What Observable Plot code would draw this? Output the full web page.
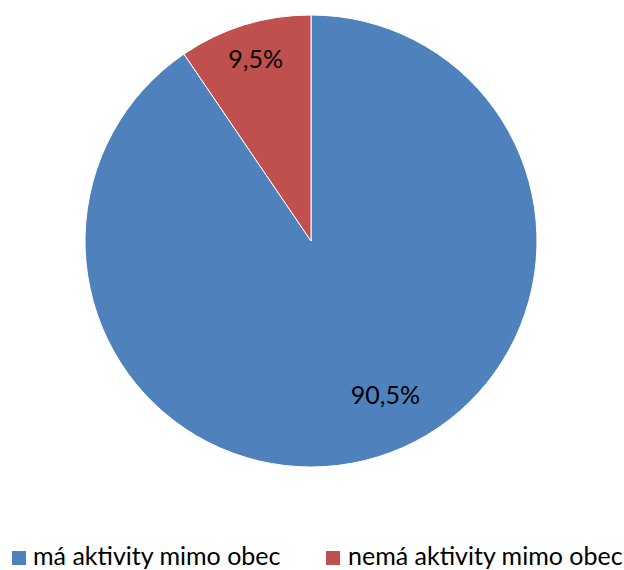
<!DOCTYPE html>
<html>
<head>
<meta charset="utf-8">
<script src="https://cdn.jsdelivr.net/npm/d3@7"></script>
<script src="https://cdn.jsdelivr.net/npm/@observablehq/plot@0.6"></script>
<style>
  body { margin: 0; background: #fff; font-family: Lato, "Open Sans", sans-serif; overflow: hidden; }
  #chart { position: relative; width: 624px; height: 570px; }
  .legend { position: absolute; top: 543px; left: 0; width: 624px; height: 26px; font-size: 25px; line-height: 25px; color: #000; }
  .item { position: absolute; top: 0; height: 26px; white-space: nowrap; }
  .sw { position: absolute; top: 8px; left: 0; width: 14px; height: 14px; }
  .tx { position: absolute; top: 0; white-space: nowrap; }
</style>
</head>
<body>
<div id="chart"></div>
<script>
const categories = ["má aktivity mimo obec", "nemá aktivity mimo obec"];
const values = [90.5, 9.5];
const labels = ["90,5%", "9,5%"];
const colors = ["#4F81BD", "#C0504D"];

const data = categories.map((c, i) => ({category: c, value: values[i], label: labels[i]}));
const pie = d3.pie().value(d => d.value).sort(null)(data);

const W = 624, H = 540;
const cx = 311, cy = 241, R = 226;
// label placement within each slice (fraction of the slice's angle span, fraction of radius)
const placement = [{t: 0.474, r: 0.757}, {t: 0.5, r: 0.84}];
const labelData = pie.map((p, i) => {
  const a = p.startAngle + placement[i].t * (p.endAngle - p.startAngle);
  const rr = placement[i].r;
  return {label: p.data.label, x: rr * Math.sin(a), y: -rr * Math.cos(a)};
});

function pieMark(index, scales, values, dimensions) {
  const g = d3.create("svg:g");
  const ox = scales.x(0), oy = scales.y(0);
  const rr = Math.abs(scales.x(1) - scales.x(0));
  const arc = d3.arc().innerRadius(0).outerRadius(rr);
  g.attr("transform", `translate(${ox},${oy})`);
  g.selectAll("path").data(pie).join("path")
    .attr("d", arc)
    .attr("fill", d => scales.color(d.data.category))
    .attr("stroke", "#fff")
    .attr("stroke-width", 1);
  return g.node();
}

const plot = Plot.plot({
  width: W, height: H,
  marginLeft: cx - R, marginRight: W - cx - R,
  marginTop: cy - R, marginBottom: H - cy - R,
  x: {domain: [-1, 1], axis: null},
  y: {domain: [-1, 1], reverse: true, axis: null},
  color: {domain: categories, range: colors},
  style: {fontFamily: "Lato, 'Open Sans', sans-serif", background: "#fff"},
  marks: [
    pieMark,
    Plot.text(labelData, {x: "x", y: "y", text: "label", fontSize: 25, fill: "#000"})
  ]
});
const chart = document.getElementById("chart");
chart.appendChild(plot);

const legend = document.createElement("div");
legend.className = "legend";
const lefts = [12, 326];
categories.forEach((c, i) => {
  const it = document.createElement("div");
  it.className = "item";
  it.style.left = lefts[i] + "px";
  it.innerHTML = `<span class="sw" style="background:${colors[i]}"></span><span class="tx" style="left:${i === 0 ? 21 : 22}px">${c}</span>`;
  legend.appendChild(it);
});
chart.appendChild(legend);
</script>
</body>
</html>
